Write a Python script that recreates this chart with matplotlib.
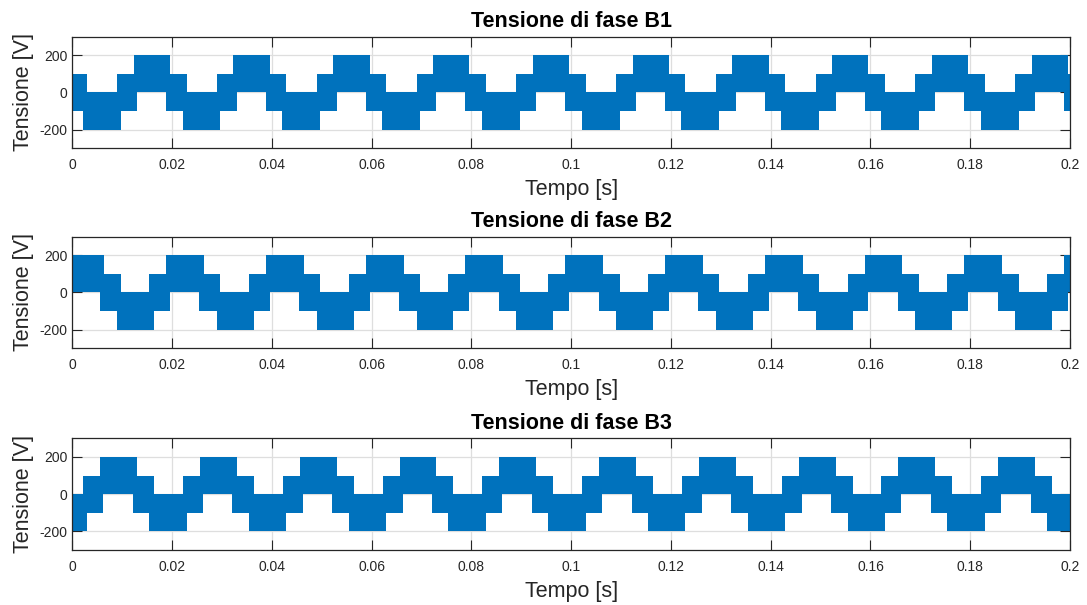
import numpy as np
import matplotlib
matplotlib.use("Agg")
import matplotlib.pyplot as plt
from matplotlib.ticker import FuncFormatter

# Phase voltages of a PWM-driven multilevel inverter: at high switching
# frequency the signal fills a band; each band is described by its upper
# and lower envelope over one fundamental period (step levels in volts,
# switching instants in seconds).
period = 0.02
n_periods = 10

titles = ["Tensione di fase B1", "Tensione di fase B2", "Tensione di fase B3"]

b1_upper_t = [0.0, 0.0029, 0.0090, 0.0123, 0.0196]
b1_upper_v = [100, 0, 100, 200, 100]
b1_lower_t = [0.0, 0.0021, 0.0097, 0.0130, 0.0188]
b1_lower_v = [-100, -200, -100, 0, -100]

b2_upper_t = [0.0, 0.0064, 0.0097, 0.0154, 0.0188]
b2_upper_v = [200, 100, 0, 100, 200]
b2_lower_t = [0.0, 0.0055, 0.0090, 0.0164, 0.0196]
b2_lower_v = [0, -100, -200, -100, 0]

b3_upper_t = [0.0, 0.0022, 0.0056, 0.0130, 0.0164]
b3_upper_v = [0, 100, 200, 100, 0]
b3_lower_t = [0.0, 0.0029, 0.0062, 0.0121, 0.0154]
b3_lower_v = [-200, -100, 0, -100, -200]

phases = [
    (b1_upper_t, b1_upper_v, b1_lower_t, b1_lower_v),
    (b2_upper_t, b2_upper_v, b2_lower_t, b2_lower_v),
    (b3_upper_t, b3_upper_v, b3_lower_t, b3_lower_v),
]

x_ticks = [0, 0.02, 0.04, 0.06, 0.08, 0.1, 0.12, 0.14, 0.16, 0.18, 0.2]
y_ticks = [-200, 0, 200]

blue = "#0072BD"
axis_color = "#262626"
grid_color = "#DEDEDE"

plt.rcParams["font.family"] = ["Liberation Sans", "DejaVu Sans"]
plt.rcParams["axes.unicode_minus"] = False


def repeat_period(times, values):
    t = np.concatenate([np.asarray(times) + k * period for k in range(n_periods)])
    v = np.tile(np.asarray(values, dtype=float), n_periods)
    return t, v


def step_lookup(times, values, x):
    idx = np.searchsorted(times, x, side="right") - 1
    return values[np.clip(idx, 0, len(values) - 1)]


fig = plt.figure(figsize=(10.87, 6.05), dpi=100)
fig.patch.set_facecolor("white")

left, width, height = 0.0665, 0.9179, 0.1845
bottoms = [0.7549, 0.4243, 0.0909]

t_end = period * n_periods

for (ut, uv, lt, lv), title, bottom in zip(phases, titles, bottoms):
    ax = fig.add_axes([left, bottom, width, height])

    up_t, up_v = repeat_period(ut, uv)
    lo_t, lo_v = repeat_period(lt, lv)
    x = np.unique(np.concatenate([up_t, lo_t, [t_end]]))
    hi = step_lookup(up_t, up_v, x)
    lo = step_lookup(lo_t, lo_v, x)
    ax.fill_between(x, lo, hi, step="post", color=blue, linewidth=0,
                    zorder=2)

    ax.set_xlim(0, t_end)
    ax.set_ylim(-300, 300)
    ax.set_xticks(x_ticks)
    ax.set_yticks(y_ticks)
    ax.xaxis.set_major_formatter(FuncFormatter(lambda v, p: f"{v:g}"))
    ax.yaxis.set_major_formatter(FuncFormatter(lambda v, p: f"{v:g}"))

    ax.set_axisbelow(True)
    ax.grid(True, color=grid_color, linewidth=0.9)
    ax.tick_params(direction="in", length=7.2, width=0.8, colors=axis_color,
                   labelsize=10, top=True, right=True)
    ax.tick_params(axis="x", pad=7)
    ax.tick_params(axis="y", pad=3.6)
    for sp in ax.spines.values():
        sp.set_color(axis_color)
        sp.set_linewidth(0.9)

    ax.set_title(title, fontsize=15.5, fontweight="bold", color="black", pad=7)
    ax.set_xlabel("Tempo [s]", fontsize=15.5, color=axis_color, labelpad=5)
    ax.set_ylabel("Tensione [V]", fontsize=15.5, color=axis_color, labelpad=4)

fig.savefig("out.png", dpi=100, facecolor="white")
